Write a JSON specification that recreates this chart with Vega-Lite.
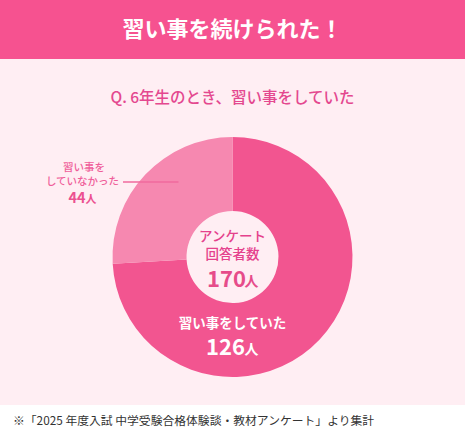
{
  "$schema": "https://vega.github.io/schema/vega-lite/v6.json",
  "background": "#ffffff",
  "padding": 0,
  "spacing": 0,
  "bounds": "flush",
  "config": {
    "view": {"stroke": null},
    "font": "Noto Sans CJK JP",
    "text": {"font": "Noto Sans CJK JP", "baseline": "middle", "align": "center"}
  },
  "datasets": {
    "answers": [
      {"category": "習い事をしていた", "count": 126},
      {"category": "習い事をしていなかった", "count": 44}
    ]
  },
  "title": {
    "text": "※「2025 年度入試 中学受験合格体験談・教材アンケート」より集計",
    "orient": "bottom",
    "anchor": "start",
    "frame": "group",
    "baseline": "middle",
    "offset": 16,
    "dx": 13,
    "fontSize": 11.8,
    "fontWeight": "normal",
    "color": "#333333",
    "font": "Noto Sans CJK JP"
  },
  "vconcat": [
    {
      "width": 465,
      "height": 59,
      "view": {"fill": "#F65290", "stroke": null},
      "data": {"values": [{}]},
      "mark": {"type": "text", "text": "習い事を続けられた！", "fontSize": 22, "fontWeight": "bold", "color": "#ffffff"},
      "encoding": {}
    },
    {
      "width": 465,
      "height": 77,
      "view": {"fill": "#FFEEF3", "stroke": null},
      "data": {"values": [{}]},
      "mark": {"type": "text", "text": "Q. 6年生のとき、習い事をしていた", "fontSize": 15.5, "fontWeight": 500, "color": "#E4488F"},
      "encoding": {}
    },
    {
      "width": 465,
      "height": 242,
      "view": {"fill": "#FFEEF3", "stroke": null},
      "data": {"name": "answers"},
      "layer": [
        {
          "mark": {"type": "arc", "radius": 120, "radius2": 46},
          "encoding": {
            "theta": {"field": "count", "type": "quantitative", "stack": true},
            "color": {
              "field": "category",
              "type": "nominal",
              "scale": {"domain": ["習い事をしていた", "習い事をしていなかった"], "range": ["#F25590", "#F688B0"]},
              "legend": null
            },
            "order": {"field": "count", "sort": "descending"}
          }
        },
        {
          "data": {"values": [{}]},
          "mark": {"type": "text", "text": ["アンケート", "回答者数"], "lineHeight": 17.5, "dy": -20, "fontSize": 13.5, "fontWeight": 500, "color": "#E5418C"},
          "encoding": {}
        },
        {
          "transform": [{"aggregate": [{"op": "sum", "field": "count", "as": "total"}]}],
          "mark": {"type": "text", "dx": -6, "dy": 22.5, "fontSize": 22, "fontWeight": "bold", "color": "#E64C8A"},
          "encoding": {"text": {"field": "total", "type": "quantitative"}}
        },
        {
          "data": {"values": [{}]},
          "mark": {"type": "text", "text": "人", "dx": 19, "dy": 25, "fontSize": 14, "fontWeight": "bold", "color": "#E64C8A"},
          "encoding": {}
        },
        {
          "transform": [{"filter": "datum.category === '習い事をしていた'"}],
          "mark": {"type": "text", "dy": 66.5, "fontSize": 13.5, "fontWeight": "bold", "color": "#ffffff"},
          "encoding": {"text": {"field": "category", "type": "nominal"}}
        },
        {
          "transform": [{"filter": "datum.category === '習い事をしていた'"}],
          "mark": {"type": "text", "dx": -7, "dy": 90.5, "fontSize": 22, "fontWeight": "bold", "color": "#ffffff"},
          "encoding": {"text": {"field": "count", "type": "quantitative"}}
        },
        {
          "data": {"values": [{}]},
          "mark": {"type": "text", "text": "人", "dx": 19, "dy": 93, "fontSize": 14, "fontWeight": "bold", "color": "#ffffff"},
          "encoding": {}
        },
        {
          "data": {"values": [{}]},
          "mark": {"type": "text", "text": "習い事を", "dx": -148.5, "dy": -89, "fontSize": 10.5, "fontWeight": 500, "color": "#EF5E9A"},
          "encoding": {}
        },
        {
          "data": {"values": [{}]},
          "mark": {"type": "text", "text": "していなかった", "dx": -150, "dy": -75.5, "fontSize": 10.5, "fontWeight": 500, "color": "#EF5E9A"},
          "encoding": {}
        },
        {
          "transform": [{"filter": "datum.category === '習い事をしていなかった'"}],
          "mark": {"type": "text", "dx": -155.5, "dy": -58.5, "fontSize": 14.5, "fontWeight": "bold", "color": "#EC5090"},
          "encoding": {"text": {"field": "count", "type": "quantitative"}}
        },
        {
          "data": {"values": [{}]},
          "mark": {"type": "text", "text": "人", "dx": -141.5, "dy": -57.5, "fontSize": 11, "fontWeight": "bold", "color": "#EC5090"},
          "encoding": {}
        },
        {
          "data": {"values": [{}]},
          "mark": {"type": "rule", "color": "#F06A9E", "strokeWidth": 1.5},
          "encoding": {
            "x": {"value": 123},
            "x2": {"value": 178.5},
            "y": {"value": 46}
          }
        }
      ]
    },
    {
      "width": 465,
      "height": 27,
      "view": {"fill": "#FFEEF3", "stroke": null},
      "data": {"values": [{}]},
      "mark": {"type": "text", "text": ""},
      "encoding": {}
    }
  ]
}
